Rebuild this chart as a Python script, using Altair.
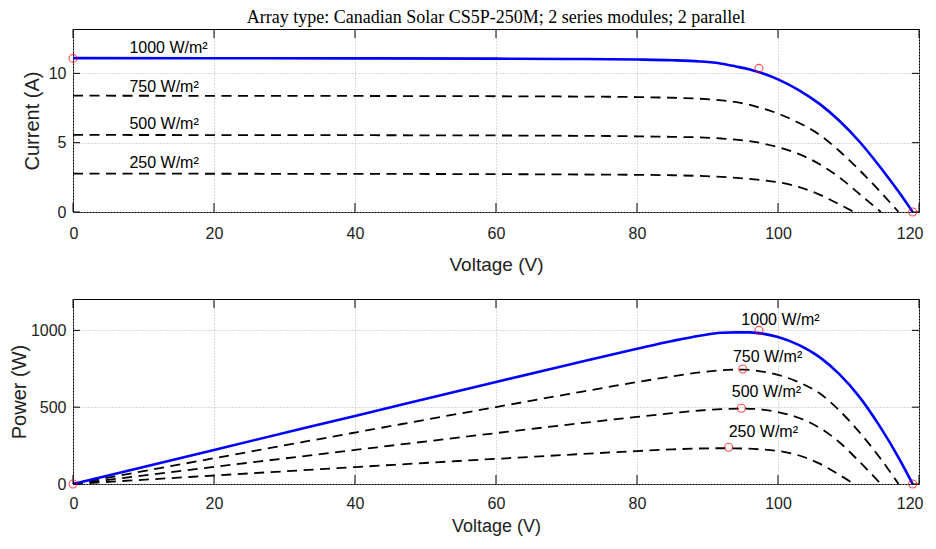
import altair as alt
import pandas as pd

# ---------------- data ----------------
irradiance = [1000, 750, 500, 250]

v1000 = [0, 20, 40, 60, 70, 80, 85, 88.9, 92, 94, 96, 98, 100, 103, 105.9, 108.7, 111.6, 114.4, 117.2, 119.1]
i1000 = [11.10, 11.09, 11.08, 11.06, 11.04, 11.00, 10.95, 10.86, 10.70, 10.50, 10.28, 9.97, 9.57, 8.78, 7.80, 6.58, 5.05, 3.30, 1.40, 0]
p1000 = [0, 222, 443, 664, 773, 880, 931, 965, 984, 987, 987, 977, 957, 904, 826, 715, 564, 378, 164, 0]

v750 = [0, 20, 40, 60, 70, 80, 85, 88.9, 92, 95, 97.5, 100, 103, 105.9, 108.7, 111.6, 114.4, 117.1]
i750 = [8.39, 8.38, 8.37, 8.35, 8.33, 8.29, 8.24, 8.17, 8.05, 7.84, 7.52, 7.10, 6.42, 5.57, 4.40, 3.00, 1.52, 0]
p750 = [0, 167.6, 334.8, 501, 583.1, 663.2, 700.4, 726.3, 740.6, 744.8, 733.2, 710, 661.3, 589.9, 478.3, 334.8, 173.9, 0]

v500 = [0, 20, 40, 60, 70, 80, 85, 88.9, 92, 95, 97.5, 100, 103, 105.9, 108.7, 111.6, 114.6]
i500 = [5.56, 5.55, 5.54, 5.52, 5.50, 5.46, 5.42, 5.38, 5.30, 5.17, 4.98, 4.68, 4.17, 3.45, 2.50, 1.28, 0]
p500 = [0, 111, 221.6, 331.2, 385, 436.8, 460.7, 478.3, 487.6, 491.2, 485.6, 468, 429.5, 365.4, 271.8, 142.8, 0]

v250 = [0, 20, 40, 60, 70, 80, 85, 88.9, 92, 95, 97.5, 100, 103, 105.9, 108.7, 110.8]
i250 = [2.77, 2.76, 2.75, 2.73, 2.71, 2.68, 2.65, 2.60, 2.53, 2.43, 2.31, 2.15, 1.80, 1.25, 0.55, 0]
p250 = [0, 55.2, 110, 163.8, 189.7, 214.4, 225.3, 231.1, 232.8, 230.9, 225.2, 215, 185.4, 132.4, 59.8, 0]

# highlighted points (red circles)
top_mark_v = [0, 97.3, 119.1]
top_mark_i = [11.08, 10.36, 0]
bot_mark_v = [0, 97.3, 95.0, 94.8, 93.0, 119.1]
bot_mark_p = [0, 1000, 748, 493, 239, 0]

# curve labels
label_text = ["1000 W/m²", "750 W/m²", "500 W/m²", "250 W/m²"]
top_label_v = [8.0, 8.0, 8.0, 8.0]
top_label_i = [11.83, 9.01, 6.32, 3.56]
bot_label_v = [94.8, 93.6, 93.45, 93.0]
bot_label_p = [1067, 828, 602, 341]

x_ticks = [0, 20, 40, 60, 80, 100, 120]
top_y_ticks = [0, 5, 10]
bot_y_ticks = [0, 500, 1000]

title_text = "Array type: Canadian Solar CS5P-250M; 2 series modules; 2 parallel"

# ---------------- tables ----------------
rows = []
for irr, vs, cs, ps in [(1000, v1000, i1000, p1000), (750, v750, i750, p750),
                        (500, v500, i500, p500), (250, v250, i250, p250)]:
    for k, (v, c, p) in enumerate(zip(vs, cs, ps)):
        rows.append({"irr": irr, "V": v, "I": c, "P": p, "k": k})
curves = pd.DataFrame(rows)

top_marks = pd.DataFrame({"V": top_mark_v, "I": top_mark_i})
bot_marks = pd.DataFrame({"V": bot_mark_v, "P": bot_mark_p})
top_labels = pd.DataFrame({"txt": label_text, "V": top_label_v, "I": top_label_i})
bot_labels = pd.DataFrame({"txt": label_text, "V": bot_label_v, "P": bot_label_p})
xt = pd.DataFrame({"V": x_ticks})
yt_top = pd.DataFrame({"I": top_y_ticks})
yt_bot = pd.DataFrame({"P": bot_y_ticks})

W = 846
H_TOP = 183
H_BOT = 185
FONT = "Liberation Sans, Arial"
TXT = "#222222"

xscale = alt.Scale(domain=[0, 120], nice=False, zero=False)


def x_axis(lpad, tpad, tsize):
    return alt.Axis(values=x_ticks, title="Voltage (V)", grid=True, gridDash=[1, 2],
                    gridColor="#b5b5b5", gridWidth=1, tickSize=0, domain=False,
                    labelFlush=True, labelFlushOffset=4, format="d",
                    labelPadding=lpad, titlePadding=tpad, labelFont=FONT,
                    labelFontSize=16, labelColor=TXT, titleFont=FONT,
                    titleFontSize=tsize, titleFontWeight="normal", titleColor=TXT)


def y_axis(title, vals, tpad):
    return alt.Axis(values=vals, title=title, grid=True, gridDash=[1, 2],
                    gridColor="#b5b5b5", gridWidth=1, tickSize=0, domain=False,
                    labelFlush=False, format="d",
                    labelPadding=7, titlePadding=tpad, labelFont=FONT,
                    labelFontSize=16, labelColor=TXT, titleFont=FONT,
                    titleFontSize=20, titleFontWeight="normal", titleColor=TXT)


def panel(yfield, yscale, ytitle, yvals, marks, labels, ytick_df, H, ytpad, xlpad, xtpad, xts):
    X = alt.X("V:Q", scale=xscale, axis=x_axis(xlpad, xtpad, xts))
    Y = alt.Y(f"{yfield}:Q", scale=yscale, axis=y_axis(ytitle, yvals, ytpad))
    base = alt.Chart(curves)
    dashed = base.transform_filter("datum.irr != 1000").mark_line(
        color="black", strokeWidth=1.8, strokeDash=[10, 6.5], interpolate="monotone"
    ).encode(x=X, y=Y, detail="irr:N", order="k:Q")
    blue = base.transform_filter("datum.irr == 1000").mark_line(
        color="#0000ff", strokeWidth=2.6, interpolate="monotone"
    ).encode(x=X, y=Y, order="k:Q")
    pts = alt.Chart(marks).mark_point(
        shape="circle", filled=False, color="#ff0000", size=64, strokeWidth=1.1
    ).encode(x=X, y=Y)
    txt = alt.Chart(labels).mark_text(
        align="left", baseline="middle", font=FONT, fontSize=16, color="black"
    ).encode(x=X, y=Y, text="txt:N")
    tick_style = dict(color="black", strokeWidth=1)
    t_bottom = alt.Chart(xt).mark_rule(**tick_style).encode(
        x=X, y=alt.value(H), y2=alt.value(H - 9))
    t_top = alt.Chart(xt).mark_rule(**tick_style).encode(
        x=X, y=alt.value(0), y2=alt.value(9))
    t_left = alt.Chart(ytick_df).mark_rule(**tick_style).encode(
        y=Y, x=alt.value(0), x2=alt.value(7))
    t_right = alt.Chart(ytick_df).mark_rule(**tick_style).encode(
        y=Y, x=alt.value(W), x2=alt.value(W - 7))
    return alt.layer(dashed, blue, t_bottom, t_top, t_left, t_right, pts, txt).properties(
        width=W, height=H)


top = panel("I", alt.Scale(domain=[0, 13.2], nice=False), "Current (A)", top_y_ticks,
            top_marks, top_labels, yt_top, H_TOP, 6, 13, 14, 19).properties(
    title=alt.TitleParams(title_text, font="Liberation Serif, Times New Roman", fontSize=18,
                          fontWeight="normal", anchor="middle", offset=2, color="black"))
bottom = panel("P", alt.Scale(domain=[0, 1204], nice=False), "Power (W)", bot_y_ticks,
               bot_marks, bot_labels, yt_bot, H_BOT, 1, 11, 6, 18)

chart = alt.vconcat(top, bottom, spacing=23).properties(
    padding={"left": 0, "top": 0, "right": 0, "bottom": 0},
    background="white",
).configure_view(stroke="black", strokeWidth=1)

chart.save("out.html", embed_options={"renderer": "svg", "actions": False})
